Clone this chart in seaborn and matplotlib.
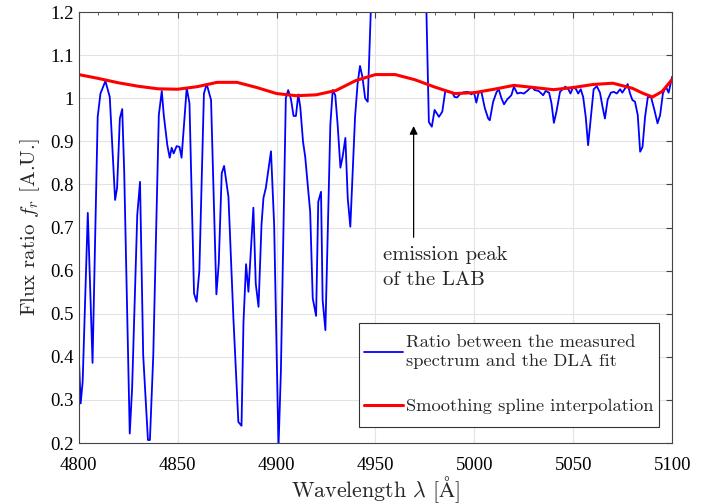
import numpy as np
import pandas as pd
import matplotlib
matplotlib.use('Agg')
import matplotlib.pyplot as plt
import seaborn as sns
from matplotlib.path import Path
from matplotlib.ticker import MultipleLocator, FormatStrFormatter

# measured ratio (blue)
wl_ratio = [4800, 4801, 4802, 4804.6, 4807, 4809.6, 4811, 4813.5, 4815.7, 4818.4,
            4819.4, 4820.8, 4822, 4823, 4825.8, 4827, 4829.6, 4831, 4832.6, 4835,
            4836, 4837.7, 4840.5, 4842, 4843, 4844.8, 4846, 4847, 4848, 4849.5,
            4851, 4852, 4854.6, 4856, 4858.3, 4859.6, 4861, 4863.3, 4864.7, 4866.9,
            4869.6, 4870.8, 4872.3, 4873.5, 4875.7, 4878.2, 4880.7, 4882.3, 4883.3, 4884.6,
            4885.8, 4888.3, 4889.5, 4890.9, 4892.4, 4893.4, 4894.6, 4897.2, 4898.8, 4901,
            4902.2, 4904.7, 4905.9, 4907.3, 4908.6, 4909.8, 4911, 4912, 4913.4, 4914.5,
            4917, 4918.3, 4920, 4921.1, 4922.5, 4923.3, 4924.7, 4927.2, 4928.4, 4929.7,
            4930.9, 4932.3, 4933.4, 4934.8, 4936, 4937.3, 4939.7, 4941, 4942.2, 4943.4,
            4944.8, 4946.1, 4948, 4950, 4955, 4962, 4968, 4973, 4975.3, 4977,
            4978.5, 4979.9, 4982.1, 4983.8, 4985.3, 4987.5, 4988.7, 4990, 4991.3, 4993,
            4994.7, 4996.8, 4998.5, 4999.8, 5001, 5002.2, 5003.6, 5005.3, 5007, 5007.8,
            5009.5, 5011.2, 5012.3, 5013.7, 5015, 5016.7, 5018.7, 5020, 5021.7, 5023.3,
            5025, 5026.7, 5029, 5030.5, 5032.5, 5034.8, 5036, 5037.8, 5039, 5040.2,
            5041.5, 5043.3, 5046, 5047.5, 5048.6, 5050, 5051.4, 5052.5, 5053.8, 5055,
            5056.3, 5057.5, 5059, 5060.3, 5061.9, 5063.5, 5064.8, 5066, 5067.4, 5069,
            5070.5, 5072, 5073.7, 5074.8, 5076.2, 5077.5, 5078.7, 5079.9, 5081.2, 5082.6,
            5083.8, 5085, 5086.3, 5087.7, 5089.3, 5091, 5092.6, 5093.9, 5095.3, 5096.8,
            5098.2, 5099.6, 5100]
flux_ratio = [0.408, 0.292, 0.342, 0.734, 0.386, 0.957, 1.011, 1.040, 1.003, 0.764,
              0.792, 0.953, 0.975, 0.83, 0.222, 0.327, 0.729, 0.806, 0.404, 0.207,
              0.207, 0.404, 0.961, 1.017, 0.961, 0.891, 0.862, 0.885, 0.872, 0.889,
              0.887, 0.862, 1.024, 0.988, 0.547, 0.528, 0.601, 1.011, 1.033, 0.996,
              0.545, 0.617, 0.826, 0.843, 0.771, 0.49, 0.249, 0.24, 0.481, 0.615,
              0.551, 0.746, 0.57, 0.516, 0.706, 0.769, 0.792, 0.877, 0.706, 0.19,
              0.365, 1.0, 1.019, 0.998, 0.959, 0.959, 1.009, 0.98, 0.899, 0.864,
              0.737, 0.536, 0.495, 0.76, 0.783, 0.532, 0.462, 0.938, 1.019, 1.007,
              0.938, 0.839, 0.864, 0.908, 0.768, 0.702, 0.957, 1.035, 1.075, 1.05,
              1.0, 0.992, 1.25, 1.45, 1.7, 1.9, 1.7, 1.45, 1.3, 0.945,
              0.934, 0.973, 0.957, 0.969, 1.017, 1.015, 1.014, 1.003, 1.002, 1.011,
              1.014, 1.015, 1.009, 1.014, 0.99, 1.014, 1.014, 0.977, 0.953, 0.949,
              0.992, 1.014, 1.021, 1.0, 0.986, 0.998, 1.007, 1.027, 1.011, 1.013,
              1.011, 1.017, 1.027, 1.019, 1.017, 1.007, 1.017, 1.013, 0.988, 0.943,
              0.969, 1.015, 1.027, 1.021, 1.011, 1.027, 1.021, 1.011, 1.021, 1.003,
              0.957, 0.891, 0.961, 1.021, 1.028, 1.013, 0.98, 0.953, 0.997, 1.013,
              1.015, 1.011, 1.021, 1.013, 1.023, 1.033, 1.011, 0.996, 0.992, 0.961,
              0.876, 0.887, 0.957, 1.003, 1.003, 0.973, 0.942, 0.961, 1.011, 1.027,
              1.013, 1.042, 1.05]

# smoothing spline (red)
wl_spline = [4800, 4810, 4820, 4830, 4840, 4850, 4860, 4870, 4880, 4890,
             4900, 4910, 4920, 4930, 4940, 4950, 4960, 4970, 4980, 4990,
             5000, 5010, 5020, 5030, 5040, 5050, 5060, 5070, 5080, 5085,
             5090, 5095, 5100]
flux_spline = [1.055, 1.046, 1.036, 1.028, 1.022, 1.021, 1.027, 1.037, 1.037, 1.025,
               1.011, 1.006, 1.008, 1.018, 1.041, 1.055, 1.055, 1.043, 1.026, 1.011,
               1.013, 1.021, 1.030, 1.025, 1.020, 1.025, 1.032, 1.035, 1.023, 1.012,
               1.003, 1.016, 1.044]

df_ratio = pd.DataFrame({'wl': wl_ratio, 'f': flux_ratio})
df_spline = pd.DataFrame({'wl': wl_spline, 'f': flux_spline})

sns.set_style('white')
plt.rcParams['mathtext.fontset'] = 'cm'
plt.rcParams['axes.unicode_minus'] = False

fig, ax = plt.subplots(figsize=(7.22, 5.04), dpi=100)
fig.subplots_adjust(left=0.109, right=0.931, top=0.976, bottom=0.121)

sns.lineplot(data=df_ratio, x='wl', y='f', color='#0000ff', lw=1.3, ax=ax,
             label='Ratio between the measured\nspectrum and the DLA fit', sort=False)
sns.lineplot(data=df_spline, x='wl', y='f', color='#ff0000', lw=2.2, ax=ax,
             label='Smoothing spline interpolation', sort=False)

ax.set_xlim(4800, 5100)
ax.set_ylim(0.2, 1.2)
ax.xaxis.set_major_locator(MultipleLocator(50))
ax.xaxis.set_minor_locator(MultipleLocator(10))
ax.yaxis.set_major_locator(MultipleLocator(0.1))
ax.yaxis.set_major_formatter(FormatStrFormatter('%g'))
ax.grid(True, which='major', color='#e3e3e3', lw=0.8)
ax.tick_params(which='both', direction='in', top=True, right=True, colors='#444444',
               labelcolor='black', labelsize=13.5)
ax.tick_params(which='major', length=4)
ax.tick_params(which='minor', length=2.5)
ax.tick_params(axis='x', which='both', pad=10)
for lab in ax.get_xticklabels() + ax.get_yticklabels():
    lab.set_family('Liberation Serif')
for sp in ax.spines.values():
    sp.set_color('#444444')
    sp.set_linewidth(0.8)

ax.set_xlabel(r'Wavelength $\lambda$ [$\mathrm{\AA}$]', family='cmr10', fontsize=15.8, labelpad=0)
ax.set_ylabel(r'Flux ratio $f_r$ [A.U.]', family='cmr10', fontsize=15, labelpad=6)

ax.annotate('', xy=(4969.3, 0.942), xytext=(4969.3, 0.671),
            arrowprops=dict(arrowstyle='-|>', color='black', lw=0.9, mutation_scale=12))
ax.text(4953.6, 0.607, 'emission peak\nof the LAB', family='cmr10', fontsize=14.8,
        va='center', ha='left', linespacing=1.5)


# legend frame: tight left/right, roomier top/bottom
def tall_box(x0, y0, width, height, mutation_size):
    dy = 0.4 * mutation_size
    return Path([(x0, y0 - dy), (x0 + width, y0 - dy), (x0 + width, y0 + height + dy),
                 (x0, y0 + height + dy), (x0, y0 - dy)], closed=True)


leg = ax.legend(loc='lower right', bbox_to_anchor=(0.977, 0.055),
                prop={'family': 'cmr10', 'size': 13.3},
                frameon=True, fancybox=False, edgecolor='#333333', framealpha=1,
                handlelength=2.08, handletextpad=0.18, labelspacing=1.6,
                borderaxespad=0, borderpad=0.27)
leg.get_frame().set_boxstyle(tall_box)
leg.get_frame().set_linewidth(0.8)

fig.savefig('out.png', dpi=100)
